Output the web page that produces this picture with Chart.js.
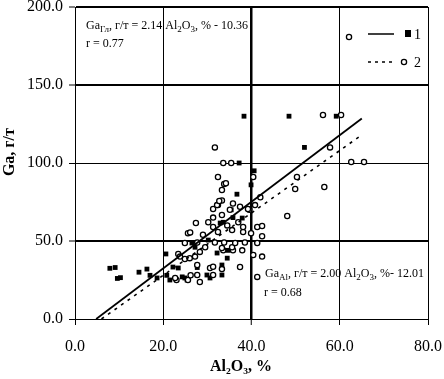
<!DOCTYPE html>
<html>
<head>
<meta charset="utf-8">
<script src="https://cdn.jsdelivr.net/npm/chart.js@4.4.0/dist/chart.umd.min.js"></script>
<style>
body{margin:0;background:#fff}
</style>
</head>
<body>
<canvas id="myChart" width="444" height="379"></canvas>
<script>

// eje X: Al2O3 %, eje Y: Ga г/т
const xTicks=[0,20,40,60,80]
const yTicks=[0,50,100,150,200]

const tituloX='Al₂O₃, %'
const tituloY='Ga, г/т'
const labelsSerie=['1','2']

// serie 1 (cuadros negros)
const serie1X=[7.9,9.1,9.6,10.3,14.5,16.3,17,18.6,20.6,20.8,21.5,22.2,23.4,24.3,24.9,25.4,26.5,27.2,27.7,29.9,30.6,30.2,32.2,32.9,33.6,33.3,33.3,34.7,34.5,35.4,35.8,37.9,36.7,37.2,38.3,39.9,40.6,48.5,52,59.2]
const serie1Y=[32.5,33,26,26.5,30,32,28,26.3,41.7,28,25,33.3,32.7,27,26.3,25,48.7,46,33,28.2,26.3,50.6,42.3,61.5,62,34.6,28.2,44,39,70,65,64.7,80,100,130,86,95,130,110,130]

// serie 2 (circulos)
const serie2X=[23,22.7,25.6,26.2,27.7,28.3,31.3,27.7,30.6,31.3,33.3,37.4,41.3,23.4,23.8,24.9,26,27.2,28.3,33.6,35.8,37.9,40.4,42.4,24.9,27.7,29.5,31.7,33.8,33.3,35.6,36.3,38.5,41.3,25.6,26.1,29,31.3,32.4,35.6,38.1,39.9,41.3,27.4,30.2,31.3,33.3,34.5,37,38.1,31.3,32.4,32.2,35.1,35.8,37.4,39.5,40.8,42,33.3,32.7,33.3,33.8,34.2,32.4,40.4,31.7,33.6,35.4,42.4,42.4,48.1,49.9,50.3,56.5,57.8,56.2,60.3,62.6,65.5,62.1,39.2]
const serie2Y=[25,26.3,25,28,28.2,23.7,28.2,34.6,32.7,33.5,32,33.3,27,41.7,40,38.5,39,40,43,44,44,44,41,40,48.7,49,46,49,49,45.5,46,48.7,49,48.7,55,55.5,54,59,55.8,57,55.8,55,59,61.5,62,65,66.7,60,62,59,70.5,73,73,70,74,72,70,73,78,76,75.6,82.7,86.5,87,91,91,110,100,100,59.6,53,66,83.3,91,84.6,110,130.8,130.8,100.6,100.6,180.8,70.5]

// rectas de regresion (extremos)
const recta1X=[4.8,65]
const recta1Y=[0,128.5]
const recta2X=[6,65]
const recta2Y=[0,118]

function puntos(xs,ys){
  let arr=[]
  for (let i=0;i<xs.length;i++){
    arr.push({x:xs[i],y:ys[i]})
  }
  return arr
}

// texto con subindices
function textoRico(ctx,x,y,partes,size){
  let px=x
  partes.forEach((p)=>{
    if(p[1]=='s'){
      ctx.font=Math.round(size*0.72)+'px "Liberation Serif"'
      ctx.fillText(p[0],px,y+size*0.28)
    }else{
      ctx.font=size+'px "Liberation Serif"'
      ctx.fillText(p[0],px,y)
    }
    px+=ctx.measureText(p[0]).width
  })
}

const anotaciones={
  id:'anotaciones',
  afterDatasetsDraw(chart){
    const ctx=chart.ctx
    const a=chart.chartArea
    ctx.save()
    ctx.fillStyle='#000'
    ctx.textBaseline='alphabetic'
    ctx.textAlign='left'

    textoRico(ctx,a.left+11,a.top+22,[['Ga'],['Гл','s'],[', г/т = 2.14 Al'],['2','s'],['O'],['3','s'],[', % - 10.36']],12)
    textoRico(ctx,a.left+11,a.top+40,[['r = 0.77']],12)

    textoRico(ctx,a.left+190,a.bottom-42,[['Ga'],['Al','s'],[', г/т = 2.00 Al'],['2','s'],['O'],['3','s'],[', %- 12.01']],12)
    textoRico(ctx,a.left+189,a.bottom-23,[['r = 0.68']],12)

    // leyenda
    const lx=a.right-60
    ctx.strokeStyle='#000'
    ctx.lineWidth=1.5
    ctx.beginPath()
    ctx.moveTo(lx,a.top+27)
    ctx.lineTo(lx+26,a.top+27)
    ctx.stroke()
    ctx.fillRect(lx+37,a.top+23,6,7)
    ctx.font='14px "Liberation Serif"'
    ctx.fillText(labelsSerie[0],lx+46,a.top+32)

    ctx.setLineDash([3,4])
    ctx.beginPath()
    ctx.moveTo(lx,a.top+55)
    ctx.lineTo(lx+25,a.top+55)
    ctx.stroke()
    ctx.setLineDash([])
    ctx.lineWidth=1.3
    ctx.beginPath()
    ctx.arc(lx+36,a.top+55,2.6,0,Math.PI*2)
    ctx.fillStyle='#fff'
    ctx.fill()
    ctx.stroke()
    ctx.fillStyle='#000'
    ctx.fillText(labelsSerie[1],lx+46,a.top+60)

    // titulos de los ejes
    ctx.font='bold 16px "Liberation Serif"'
    ctx.textAlign='center'
    ctx.textBaseline='middle'
    ctx.fillText(tituloX,a.left+(a.right-a.left)*0.47,367)
    ctx.translate(10,a.top+(a.bottom-a.top)*0.465)
    ctx.rotate(-Math.PI/2)
    ctx.fillText(tituloY,0,0)
    ctx.restore()
  }
}

function grafico(){
  const ctx=document.getElementById('myChart')

  new Chart(ctx,{
    type:'scatter',
    data:{
      datasets:[
        {
          label:'recta 1',
          type:'line',
          data:puntos(recta1X,recta1Y),
          borderColor:'#000',
          borderWidth:1.8,
          pointRadius:0,
          fill:false
        },
        {
          label:'recta 2',
          type:'line',
          data:puntos(recta2X,recta2Y),
          borderColor:'#000',
          borderWidth:1.6,
          borderDash:[3,5],
          pointRadius:0,
          fill:false
        },
        {
          label:labelsSerie[1],
          data:puntos(serie2X,serie2Y),
          pointStyle:'circle',
          pointRadius:2.6,
          borderWidth:1.3,
          borderColor:'#000',
          backgroundColor:'#fff'
        },
        {
          label:labelsSerie[0],
          data:puntos(serie1X,serie1Y),
          pointStyle:'rect',
          pointRadius:3.4,
          borderWidth:0,
          borderColor:'#000',
          backgroundColor:'#000'
        }
      ]
    },
    options:{
      responsive:false,
      animation:false,
      layout:{padding:{top:7,right:16,left:0,bottom:0}},
      plugins:{
        legend:{display:false},
        tooltip:{enabled:false}
      },
      scales:{
        x:{
          type:'linear',
          min:xTicks[0],
          max:xTicks[xTicks.length-1],
          afterBuildTicks:(s)=>{s.ticks=xTicks.map(v=>({value:v}))},
          afterFit:(s)=>{s.height=60; s.paddingLeft=0; s.paddingRight=0},
          ticks:{
            color:'#000',
            padding:12,
            font:{family:'"Liberation Serif"',size:16},
            callback:(v)=>Number(v).toFixed(1)
          },
          grid:{
            color:'#000',
            tickLength:6,
            tickWidth:1,
            lineWidth:(c)=>(c.tick && c.tick.value==40)?2.5:1
          },
          border:{color:'#000',width:1}
        },
        y:{
          type:'linear',
          min:yTicks[0],
          max:yTicks[yTicks.length-1],
          afterBuildTicks:(s)=>{s.ticks=yTicks.map(v=>({value:v}))},
          afterFit:(s)=>{s.width=75; s.paddingTop=0; s.paddingBottom=0},
          ticks:{
            color:'#000',
            padding:6,
            font:{family:'"Liberation Serif"',size:16},
            callback:(v)=>Number(v).toFixed(1)
          },
          grid:{
            color:'#000',
            tickLength:6,
            tickWidth:1,
            lineWidth:(c)=>(c.tick && (c.tick.value==50 || c.tick.value==150 || c.tick.value==200))?2:1
          },
          border:{color:'#000',width:1}
        }
      }
    },
    plugins:[anotaciones]
  })
}

grafico()

</script>
</body>
</html>
